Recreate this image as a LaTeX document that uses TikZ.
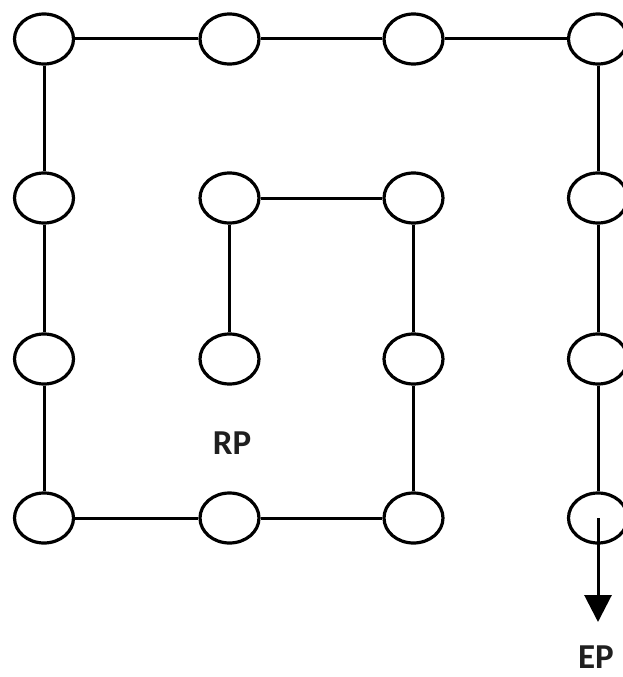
\documentclass[tikz,border=0pt]{standalone}
\usepackage{fontspec}
\setmainfont{Carlito}
\usetikzlibrary{arrows.meta,shapes.geometric}
\begin{document}
\begin{tikzpicture}[x=1pt,y=-1pt,
  pt/.style={draw=black,ellipse,line width=3.2pt,minimum width=59pt,minimum height=50pt,inner sep=0pt},
  link/.style={draw=black,line width=3pt},
  lbl/.style={font=\bfseries\fontsize{35}{40}\selectfont,text=black!88,inner sep=0pt}]
\useasboundingbox (0,0) rectangle (623,677);
\foreach \c/\x in {1/44,2/229.5,3/413.5,4/598}{
  \foreach \r/\y in {1/39,2/198,3/359,4/518}{
    \node[pt] (n\r\c) at (\x,\y) {};
  }
}
\draw[link] (n11) -- (n12) -- (n13) -- (n14);
\draw[link] (n11) -- (n21) -- (n31) -- (n41);
\draw[link] (n41) -- (n42) -- (n43);
\draw[link] (n43) -- (n33) -- (n23) -- (n22) -- (n32);
\draw[link] (n14) -- (n24) -- (n34) -- (n44);
\coordinate (tip) at (598,622);
\draw[link,-{Triangle[width=27pt,length=27pt]}] (n44.center) -- (tip);
\node[lbl] (rp) at (232,443) {RP};
\node[lbl] (ep) at (596,657) {EP};
\end{tikzpicture}
\end{document}
